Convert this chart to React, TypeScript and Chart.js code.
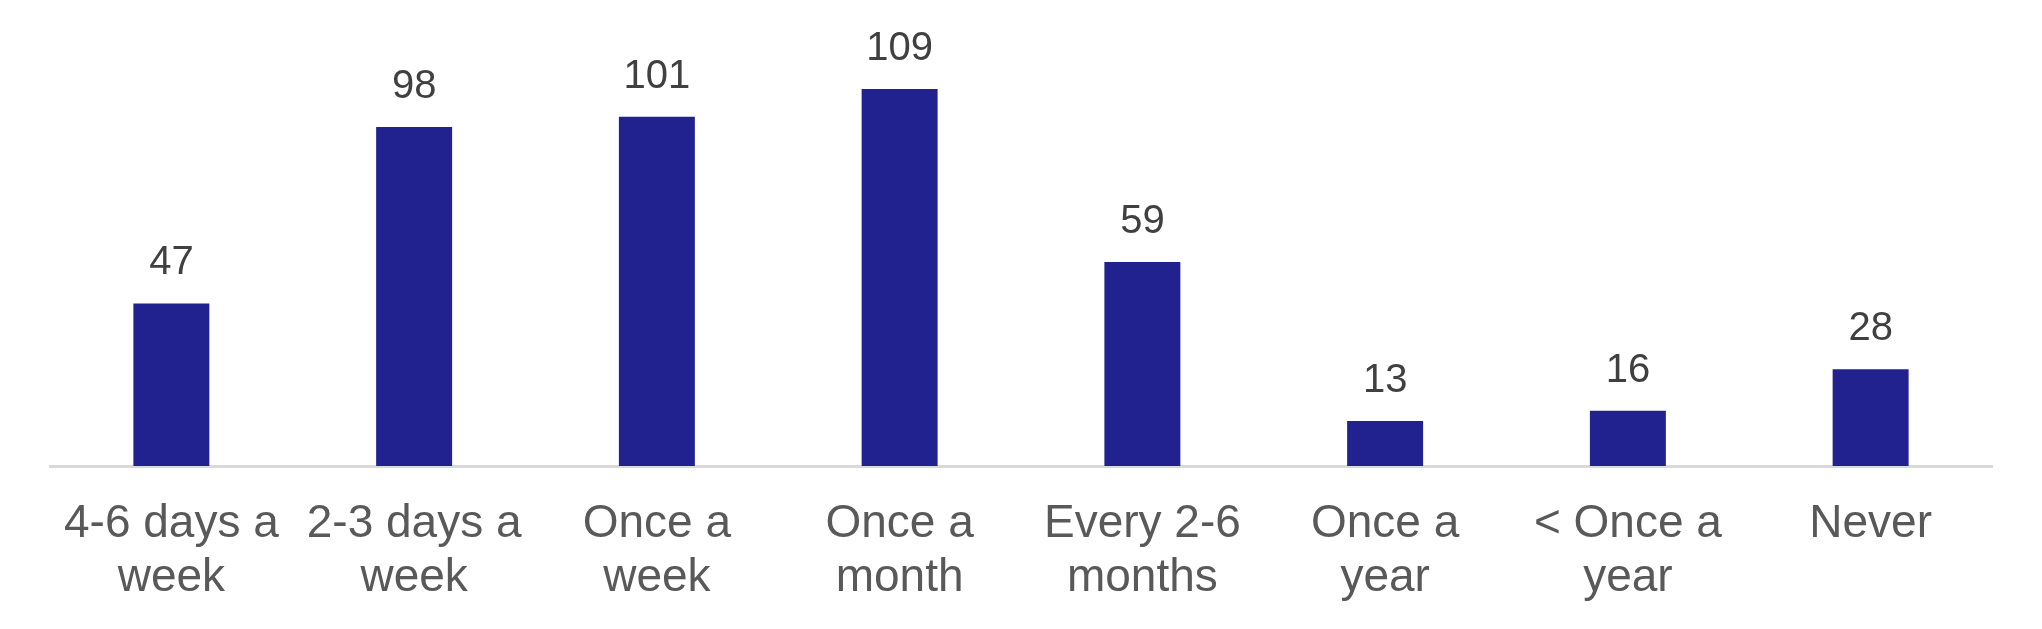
import React, { useEffect, useRef } from "react";
import { Chart, registerables } from "chart.js";

Chart.register(...registerables);

const categories: (string | string[])[] = [
  ["4-6 days a", "week"],
  ["2-3 days a", "week"],
  ["Once a", "week"],
  ["Once a", "month"],
  ["Every 2-6", "months"],
  ["Once a", "year"],
  ["< Once a", "year"],
  "Never",
];

const counts: number[] = [47, 98, 101, 109, 59, 13, 16, 28];

const FONT = "'Liberation Sans', Arial, sans-serif";

const valueLabels = {
  id: "valueLabels",
  afterDatasetsDraw(chart: any) {
    const ctx = chart.ctx;
    const meta = chart.getDatasetMeta(0);
    ctx.save();
    ctx.font = `40px ${FONT}`;
    ctx.fillStyle = "#404040";
    ctx.textAlign = "center";
    ctx.textBaseline = "alphabetic";
    meta.data.forEach((bar: any, i: number) => {
      ctx.fillText(String(counts[i]), bar.x, bar.y - 29);
    });
    ctx.restore();
  },
};

export default function App() {
  const ref = useRef<HTMLCanvasElement>(null);
  useEffect(() => {
    if (!ref.current) return;
    const chart = new Chart(ref.current, {
      type: "bar",
      data: {
        labels: categories,
        datasets: [
          {
            data: counts,
            backgroundColor: "#21218F",
            categoryPercentage: 1,
            barPercentage: 0.313,
          },
        ],
      },
      options: {
        animation: false,
        responsive: false,
        devicePixelRatio: 1,
        layout: { padding: { left: 50, right: 50, top: 51, bottom: 0 } },
        plugins: { legend: { display: false }, tooltip: { enabled: false } },
        scales: {
          x: {
            grid: { display: false, drawTicks: false },
            border: { display: true, color: "#d9d9d9", width: 3 },
            ticks: {
              color: "#595959",
              font: { family: FONT, size: 46, lineHeight: 1.16 },
              padding: 32,
              maxRotation: 0,
              autoSkip: false,
            },
            afterFit: (scale: any) => {
              scale.height = 163;
            },
          },
          y: { display: false, min: 0, max: 120 },
        },
      },
      plugins: [valueLabels],
    });
    return () => chart.destroy();
  }, []);
  return (
    <div style={{ position: "fixed", left: 0, top: 0, width: 2042, height: 629, background: "#fff" }}>
      <canvas ref={ref} width={2042} height={629} />
    </div>
  );
}
